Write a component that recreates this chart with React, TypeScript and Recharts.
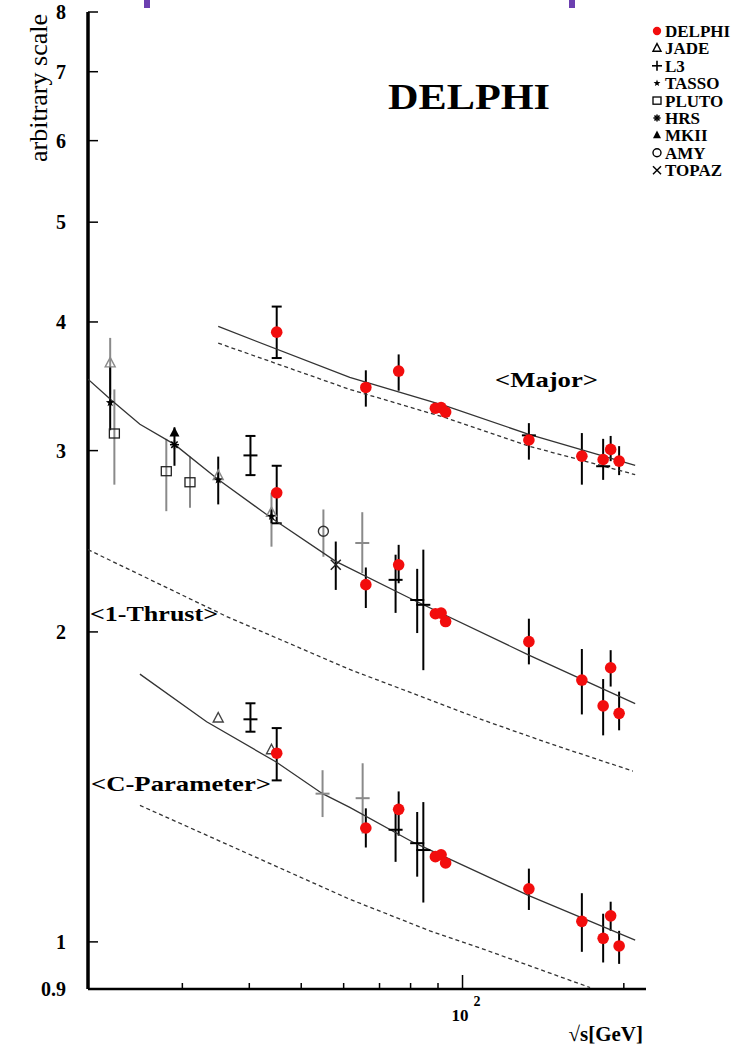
import React from 'react';
import { ComposedChart, Scatter, XAxis, YAxis, ErrorBar } from 'recharts';

const SERIF = '"Liberation Serif", "Times New Roman", serif';

// sqrt(s) in GeV for the DELPHI points
const delphiE = [45, 66, 76, 89, 91.2, 93, 133, 167, 183, 189, 196];

const delphiMajor = [3.91, 3.455, 3.584, 3.298, 3.303, 3.27, 3.072, 2.963, 2.941, 3.008, 2.93];
const delphiMajorLo = [3.69, 3.31, 3.43, 3.28, 3.285, 3.25, 2.94, 2.78, 2.81, 2.93, 2.84];
const delphiMajorHi = [4.14, 3.59, 3.72, 3.315, 3.32, 3.29, 3.19, 3.12, 3.08, 3.1, 3.03];

const delphiThrust = [2.73, 2.223, 2.324, 2.083, 2.086, 2.047, 1.957, 1.796, 1.695, 1.846, 1.667];
const delphiThrustLo = [2.55, 2.11, 2.23, 2.07, 2.075, 2.035, 1.86, 1.663, 1.587, 1.77, 1.605];
const delphiThrustHi = [2.9, 2.31, 2.43, 2.095, 2.097, 2.06, 2.06, 1.925, 1.8, 1.92, 1.75];

const delphiC = [1.525, 1.29, 1.345, 1.21, 1.215, 1.193, 1.126, 1.047, 1.008, 1.06, 0.991];
const delphiCLo = [1.435, 1.235, 1.268, 1.202, 1.207, 1.185, 1.074, 0.978, 0.955, 1.025, 0.952];
const delphiCHi = [1.613, 1.348, 1.4, 1.218, 1.223, 1.201, 1.178, 1.115, 1.065, 1.094, 1.025];

// other experiments, <1-T>
const jadeThrustE = [22, 35, 44];
const jadeThrust = [3.646, 2.834, 2.61];
const jadeThrustLo = [3.4, 2.8, 2.42];
const jadeThrustHi = [3.86, 2.87, 2.73];
const tassoThrustE = [22, 35, 44];
const tassoThrust = [3.34, 2.81, 2.59];
const tassoThrustLo = [3.14, 2.66, 2.55];
const tassoThrustHi = [3.62, 2.96, 2.63];
const plutoThrustE = [22.4, 28, 31];
const plutoThrust = [3.117, 2.865, 2.795];
const plutoThrustLo = [2.78, 2.62, 2.64];
const plutoThrustHi = [3.44, 3.08, 2.96];
const mkiiThrustE = [29];
const mkiiThrust = [3.12];
const mkiiThrustLo = [2.9];
const mkiiThrustHi = [3.16];
const hrsThrustE = [29];
const hrsThrust = [3.04];
const amyThrustE = [55];
const amyThrust = [2.505];
const amyThrustLo = [2.366];
const amyThrustHi = [2.63];
const topazThrustE = [58];
const topazThrust = [2.324];
const topazThrustLo = [2.197];
const topazThrustHi = [2.448];
const l3RadThrustE = [40.2];
const l3RadThrust = [2.968];
const l3RadThrustLo = [2.84];
const l3RadThrustHi = [3.1];
const l3ThrustE = [75, 82.3, 84.5];
const l3Thrust = [2.247, 2.148, 2.125];
const l3ThrustLo = [2.087, 1.995, 1.836];
const l3ThrustHi = [2.377, 2.303, 2.404];
const greyThrustE = [65];
const greyThrust = [2.44];
const greyThrustLo = [2.281];
const greyThrustHi = [2.614];

// other experiments, <Major>
const l3MajorE = [133, 183];
const l3Major = [3.104, 2.897];

// other experiments, <C>
const jadeCE = [35, 44];
const jadeC = [1.648, 1.535];
const l3RadCE = [40.2];
const l3RadC = [1.645];
const l3RadCLo = [1.6];
const l3RadCHi = [1.705];
const l3CE = [75, 82.3, 84.5];
const l3C = [1.285, 1.247, 1.228];
const l3CLo = [1.196, 1.157, 1.092];
const l3CHi = [1.339, 1.337, 1.367];
const greyCE = [54.8, 65.1];
const greyC = [1.393, 1.379];
const greyCLo = [1.322, 1.274];
const greyCHi = [1.468, 1.491];

// curves (solid = fit, dashed = second prediction)
const majorFitE = [35, 61.6, 93, 133, 210];
const majorFit = [3.96, 3.533, 3.315, 3.111, 2.902];
const majorDashE = [35, 61.6, 93, 133, 210];
const majorDash = [3.815, 3.44, 3.229, 3.03, 2.843];
const thrustFitE = [20, 22.1, 25, 29, 35, 44, 58, 81, 133, 210];
const thrustFit = [3.52, 3.36, 3.182, 3.042, 2.812, 2.58, 2.342, 2.148, 1.899, 1.704];
const thrustDashE = [20, 36.3, 61.6, 109.3, 145.6, 208];
const thrustDash = [2.404, 2.07, 1.839, 1.642, 1.558, 1.465];
const cFitE = [25, 33.3, 44.9, 54.8, 61.6, 81, 133, 210];
const cFit = [1.82, 1.636, 1.495, 1.393, 1.351, 1.249, 1.109, 1.004];
const cDashE = [25, 61.6, 86.9, 109.3, 173];
const cDash = [1.357, 1.1, 1.025, 0.984, 0.903];

const xTicks = [30, 40, 50, 60, 70, 80, 90, 100, 200];
const yTicks = [0.9, 1, 2, 3, 4, 5, 6, 7, 8];
const experiments = ['DELPHI', 'JADE', 'L3', 'TASSO', 'PLUTO', 'HRS', 'MKII', 'AMY', 'TOPAZ'];

type Pt = { x: number; y: number; err: [number, number] };

const pts = (xs: number[], ys: number[], lo?: number[], hi?: number[]): Pt[] =>
  xs.map((x, i) => ({
    x,
    y: ys[i],
    err: lo && hi ? [ys[i] - lo[i], hi[i] - ys[i]] : [0, 0],
  }));

const RED = '#f20d0d';
const GREY = '#8a8a8a';

const legendKinds: Record<string, string> = {
  DELPHI: 'dot', JADE: 'tri', L3: 'plus', TASSO: 'star', PLUTO: 'square',
  HRS: 'aster', MKII: 'ftri', AMY: 'circle', TOPAZ: 'cross',
};

const Marker = ({ kind, cx, cy, color, s = 1 }: { kind: string; cx: number; cy: number; color: string; s?: number }) => {
  switch (kind) {
    case 'dot':
      return <circle cx={cx} cy={cy} r={5.8 * s} fill={color} />;
    case 'tri':
      return <path d={`M${cx},${cy - 6 * s}L${cx + 5 * s},${cy + 3.5 * s}L${cx - 5 * s},${cy + 3.5 * s}Z`} fill="none" stroke={color} strokeWidth={1.4} />;
    case 'ftri':
      return <path d={`M${cx},${cy - 6 * s}L${cx + 5 * s},${cy + 3.5 * s}L${cx - 5 * s},${cy + 3.5 * s}Z`} fill={color} />;
    case 'bar':
      return <line x1={cx - 7} x2={cx + 7} y1={cy} y2={cy} stroke={color} strokeWidth={2} />;
    case 'plus':
      return (
        <g stroke={color} strokeWidth={1.6}>
          <line x1={cx - 5} x2={cx + 5} y1={cy} y2={cy} />
          <line x1={cx} x2={cx} y1={cy - 5} y2={cy + 5} />
        </g>
      );
    case 'star': {
      let d = '';
      for (let k = 0; k < 10; k++) {
        const r = (k % 2 === 0 ? 4.5 : 1.9) * s;
        const a = -Math.PI / 2 + (k * Math.PI) / 5;
        d += `${k === 0 ? 'M' : 'L'}${cx + r * Math.cos(a)},${cy + r * Math.sin(a)}`;
      }
      return <path d={d + 'Z'} fill={color} />;
    }
    case 'square':
      return <rect x={cx - 5 * s} y={cy - 4.5 * s} width={10 * s} height={9 * s} fill="none" stroke={color} strokeWidth={1.3} />;
    case 'aster':
      return (
        <g stroke={color} strokeWidth={1.5}>
          {[0, 45, 90, 135].map((a) => {
            const r = 4.5 * s;
            const dx = r * Math.cos((a * Math.PI) / 180);
            const dy = r * Math.sin((a * Math.PI) / 180);
            return <line key={a} x1={cx - dx} x2={cx + dx} y1={cy - dy} y2={cy + dy} />;
          })}
        </g>
      );
    case 'circle':
      return <circle cx={cx} cy={cy} r={5 * s} fill="none" stroke={color} strokeWidth={1.4} />;
    case 'cross':
      return (
        <g stroke={color} strokeWidth={1.5}>
          <line x1={cx - 5 * s} x2={cx + 5 * s} y1={cy - 5 * s} y2={cy + 5 * s} />
          <line x1={cx - 5 * s} x2={cx + 5 * s} y1={cy + 5 * s} y2={cy - 5 * s} />
        </g>
      );
    default:
      return <g />;
  }
};

type Series = { key: string; data: Pt[]; kind: string; color: string; bar: string; cap: number };

const markSeries: Series[] = [
  { key: 'jadeT', data: pts(jadeThrustE, jadeThrust, jadeThrustLo, jadeThrustHi), kind: 'tri', color: GREY, bar: GREY, cap: 0 },
  { key: 'plutoT', data: pts(plutoThrustE, plutoThrust, plutoThrustLo, plutoThrustHi), kind: 'square', color: '#222', bar: GREY, cap: 0 },
  { key: 'amyT', data: pts(amyThrustE, amyThrust, amyThrustLo, amyThrustHi), kind: 'circle', color: '#333', bar: GREY, cap: 0 },
  { key: 'greyT', data: pts(greyThrustE, greyThrust, greyThrustLo, greyThrustHi), kind: 'bar', color: GREY, bar: GREY, cap: 0 },
  { key: 'greyC', data: pts(greyCE, greyC, greyCLo, greyCHi), kind: 'bar', color: GREY, bar: GREY, cap: 0 },
  { key: 'jadeC', data: pts(jadeCE, jadeC), kind: 'tri', color: '#444', bar: GREY, cap: 0 },
  { key: 'tassoT', data: pts(tassoThrustE, tassoThrust, tassoThrustLo, tassoThrustHi), kind: 'star', color: '#000', bar: '#000', cap: 0 },
  { key: 'mkiiT', data: pts(mkiiThrustE, mkiiThrust, mkiiThrustLo, mkiiThrustHi), kind: 'ftri', color: '#000', bar: '#000', cap: 0 },
  { key: 'hrsT', data: pts(hrsThrustE, hrsThrust), kind: 'aster', color: '#000', bar: '#000', cap: 0 },
  { key: 'topazT', data: pts(topazThrustE, topazThrust, topazThrustLo, topazThrustHi), kind: 'cross', color: '#222', bar: '#000', cap: 0 },
  { key: 'l3RadT', data: pts(l3RadThrustE, l3RadThrust, l3RadThrustLo, l3RadThrustHi), kind: 'bar', color: '#000', bar: '#000', cap: 5 },
  { key: 'l3T', data: pts(l3ThrustE, l3Thrust, l3ThrustLo, l3ThrustHi), kind: 'bar', color: '#000', bar: '#000', cap: 0 },
  { key: 'l3M', data: pts(l3MajorE, l3Major), kind: 'bar', color: '#000', bar: '#000', cap: 0 },
  { key: 'l3RadC', data: pts(l3RadCE, l3RadC, l3RadCLo, l3RadCHi), kind: 'bar', color: '#000', bar: '#000', cap: 5 },
  { key: 'l3C', data: pts(l3CE, l3C, l3CLo, l3CHi), kind: 'bar', color: '#000', bar: '#000', cap: 0 },
];

const delphiMajorPts = pts(delphiE, delphiMajor, delphiMajorLo, delphiMajorHi);
const delphiThrustPts = pts(delphiE, delphiThrust, delphiThrustLo, delphiThrustHi);
const delphiCPts = pts(delphiE, delphiC, delphiCLo, delphiCHi);

const delphiSeries: Series[] = [
  { key: 'dM45', data: delphiMajorPts.slice(0, 1), kind: 'dot', color: RED, bar: '#000', cap: 5 },
  { key: 'dM', data: delphiMajorPts.slice(1), kind: 'dot', color: RED, bar: '#000', cap: 0 },
  { key: 'dT45', data: delphiThrustPts.slice(0, 1), kind: 'dot', color: RED, bar: '#000', cap: 5 },
  { key: 'dT', data: delphiThrustPts.slice(1), kind: 'dot', color: RED, bar: '#000', cap: 0 },
  { key: 'dC45', data: delphiCPts.slice(0, 1), kind: 'dot', color: RED, bar: '#000', cap: 5 },
  { key: 'dC', data: delphiCPts.slice(1), kind: 'dot', color: RED, bar: '#000', cap: 0 },
];

const curves = [
  { key: 'majorFit', data: pts(majorFitE, majorFit), dash: undefined },
  { key: 'majorDash', data: pts(majorDashE, majorDash), dash: '4 3' },
  { key: 'thrustFit', data: pts(thrustFitE, thrustFit), dash: undefined },
  { key: 'thrustDash', data: pts(thrustDashE, thrustDash), dash: '4 3' },
  { key: 'cFit', data: pts(cFitE, cFit), dash: undefined },
  { key: 'cDash', data: pts(cDashE, cDash), dash: '4 3' },
];

const XTick = (p: any) => {
  const { x, y, payload } = p;
  const major = payload.value === 100;
  return (
    <g>
      <line x1={x} x2={x} y1={y} y2={y - (major ? 14 : 6)} stroke="#000" strokeWidth={1.5} />
      {major && (
        <text x={x - 11} y={y + 32} fontFamily={SERIF} fontWeight="bold" fontSize={17} fill="#000">
          10
          <tspan dx={5} dy={-15} fontSize={14}>2</tspan>
        </text>
      )}
    </g>
  );
};

const YTick = (p: any) => {
  const { x, y, payload } = p;
  return (
    <g>
      <line x1={x} x2={x + 10} y1={y} y2={y} stroke="#000" strokeWidth={1.5} />
      <text x={x - 22} y={y + 7} textAnchor="end" fontFamily={SERIF} fontWeight="bold" fontSize={20} fill="#000">
        {String(payload.value)}
      </text>
    </g>
  );
};

const xDomain: [number, number] = [20, 220];
const yDomain: [number, number] = [0.9, 8];

export default function App() {
  return (
    <div style={{ position: 'absolute', left: 0, top: 0, width: 753, height: 1049, background: '#fff' }}>
      <ComposedChart width={753} height={1049} margin={{ top: 12, right: 107, bottom: 0, left: 0 }}>
        <XAxis
          dataKey="x"
          type="number"
          scale="log"
          domain={xDomain}
          allowDataOverflow
          ticks={xTicks}
          interval={0}
          height={60}
          tickSize={0}
          tickMargin={0}
          tickLine={false}
          tick={<XTick />}
          axisLine={{ stroke: '#000', strokeWidth: 2.5 }}
        />
        <XAxis
          xAxisId="top"
          orientation="top"
          dataKey="x"
          type="number"
          scale="log"
          domain={xDomain}
          allowDataOverflow
          height={0}
          tick={false}
          tickLine={false}
          axisLine={{ stroke: '#000', strokeWidth: 1.5 }}
        />
        <YAxis
          dataKey="y"
          type="number"
          scale="log"
          domain={yDomain}
          allowDataOverflow
          ticks={yTicks}
          interval={0}
          width={88}
          tickSize={0}
          tickMargin={0}
          tickLine={false}
          tick={<YTick />}
          axisLine={{ stroke: '#000', strokeWidth: 3.5 }}
        />
        <YAxis
          yAxisId="right"
          orientation="right"
          dataKey="y"
          type="number"
          scale="log"
          domain={yDomain}
          allowDataOverflow
          width={0}
          tick={false}
          tickLine={false}
          axisLine={{ stroke: '#000', strokeWidth: 1.5 }}
        />
        {curves.map((c) => (
          <Scatter
            key={c.key}
            name={c.key}
            data={c.data}
            isAnimationActive={false}
            line={{ stroke: '#333', strokeWidth: 1.3, strokeDasharray: c.dash }}
            shape={() => <g />}
          />
        ))}
        {[...markSeries, ...delphiSeries].map((s) => (
          <Scatter
            key={s.key}
            name={s.key}
            data={s.data}
            isAnimationActive={false}
            shape={(p: any) => <Marker kind={s.kind} cx={p.cx} cy={p.cy} color={s.color} />}
          >
            <ErrorBar dataKey="err" direction="y" width={s.cap} stroke={s.bar} strokeWidth={2} isAnimationActive={false} />
          </Scatter>
        ))}
      </ComposedChart>

      <svg
        width={753}
        height={1049}
        style={{ position: 'absolute', left: 0, top: 0, pointerEvents: 'none' }}
        fontFamily={SERIF}
      >
        <text transform="translate(47,88) rotate(-90)" textAnchor="middle" fontSize={26} fill="#000">
          arbitrary scale
        </text>
        <text x={388} y={109} fontSize={36} fontWeight="bold" textLength={162} lengthAdjust="spacingAndGlyphs" fill="#000">
          DELPHI
        </text>
        <text x={495} y={387} fontSize={21} fontWeight="bold" textLength={103} lengthAdjust="spacingAndGlyphs" fill="#000">
          {'<Major>'}
        </text>
        <text x={90} y={621} fontSize={21} fontWeight="bold" textLength={128} lengthAdjust="spacingAndGlyphs" fill="#000">
          {'<1-Thrust>'}
        </text>
        <text x={91} y={791} fontSize={22} fontWeight="bold" textLength={180} lengthAdjust="spacingAndGlyphs" fill="#000">
          {'<C-Parameter>'}
        </text>
        <text x={643} y={1041} textAnchor="end" fontSize={21} fontWeight="bold" fill="#000">
          √s[GeV]
        </text>
        {experiments.map((name, i) => (
          <g key={name}>
            <Marker
              kind={legendKinds[name]}
              cx={657}
              cy={31 + i * 17.4}
              color={name === 'DELPHI' ? RED : '#000'}
              s={name === 'DELPHI' ? 0.72 : 0.8}
            />
            <text x={665} y={37 + i * 17.4} fontSize={17} fontWeight="bold" fill="#000">
              {name}
            </text>
          </g>
        ))}
      </svg>
      <div style={{ position: 'absolute', left: 144, top: 0, width: 6, height: 8, background: '#6c3fb0' }} />
      <div style={{ position: 'absolute', left: 569, top: 0, width: 6, height: 8, background: '#6c3fb0' }} />
    </div>
  );
}
